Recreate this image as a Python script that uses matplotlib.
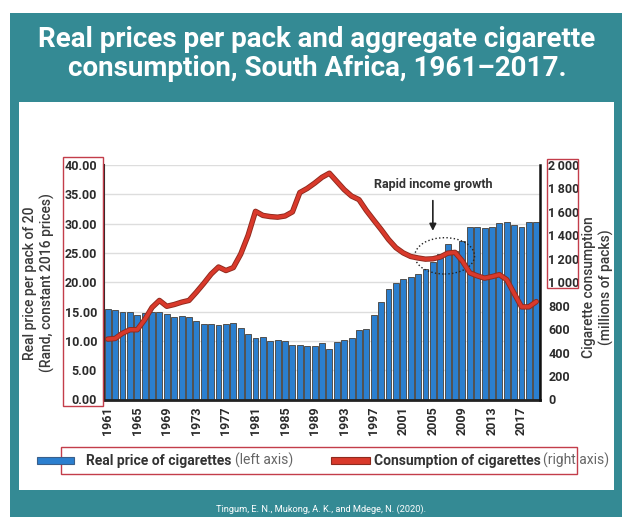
import numpy as np
import matplotlib
matplotlib.use("Agg")
import matplotlib.pyplot as plt
from matplotlib.patches import Rectangle, Ellipse
import matplotlib.patheffects as pe

plt.rcParams['font.family'] = ['Roboto', 'DejaVu Sans']

years = np.arange(1961, 2020)
price = [15.4, 15.3, 15.0, 15.0, 14.4, 14.75, 14.9, 14.9, 14.5, 14.0,
         14.2, 14.0, 13.45, 12.9, 12.9, 12.7, 12.9, 13.05, 12.25, 11.1,
         10.45, 10.65, 9.95, 10.1, 9.95, 9.35, 9.35, 9.2, 9.2, 9.6,
         8.55, 9.8, 10.1, 10.5, 11.85, 12.1, 14.35, 16.55, 18.85, 19.8,
         20.6, 20.9, 21.4, 22.2, 23.4, 24.9, 26.6, 25.35, 27.05, 29.5,
         29.5, 29.3, 29.45, 30.1, 30.35, 29.85, 29.45, 30.2, 30.2]
consumption = [515, 520, 565, 595, 595, 680, 785, 845, 795, 810,
               830, 845, 915, 990, 1070, 1130, 1100, 1125, 1240, 1400,
               1605, 1570, 1560, 1555, 1565, 1600, 1765, 1800, 1845, 1895,
               1930, 1860, 1790, 1735, 1705, 1612, 1530, 1450, 1365, 1295,
               1250, 1220, 1207, 1197, 1200, 1215, 1248, 1255, 1180, 1080,
               1055, 1035, 1048, 1065, 1022, 905, 790, 790, 835]
xtick_years = list(range(1961, 2018, 4))
left_ticks = np.arange(0, 41, 5)
right_ticks = np.arange(0, 2001, 200)

W, H = 622, 517
teal = '#348A94'
red_box = '#C33D4A'
dark = '#2b2b2b'


def fx(x):
    return x / W


def fy(y):
    return 1 - y / H


def frect(x0, y0, x1, y1, **kw):
    return Rectangle((fx(x0), fy(y1)), fx(x1) - fx(x0), fy(y0) - fy(y1),
                     transform=fig.transFigure, **kw)


fig = plt.figure(figsize=(W / 100, H / 100), dpi=100)
fig.patch.set_facecolor('white')

# background panels
fig.patches.append(frect(10, 13, 622, 517, facecolor=teal, edgecolor='none', zorder=-3))
fig.patches.append(frect(19, 102, 614, 490, facecolor='white', edgecolor='none', zorder=-2))

fig.text(fx(317), fy(54), 'Real prices per pack and aggregate cigarette\nconsumption, South Africa, 1961\u20132017.',
         ha='center', va='center', color='white', fontsize=20, fontweight='bold', linespacing=1.1)

ax = fig.add_axes([fx(104), fy(399.5), fx(540) - fx(104), fy(165) - fy(399.5)])
ax.bar(years, price, width=0.8, color='#2B7FCF', edgecolor='#505050', linewidth=0.7, zorder=2)
ax.set_xlim(1960.5, 2019.5)
ax.set_ylim(0, 40)
ax.set_yticks(left_ticks)
ax.set_yticklabels([f'{v:.2f}' for v in left_ticks])
ax.set_xticks(xtick_years)
ax.set_xticklabels([str(y) for y in xtick_years], rotation=90)
ax.grid(axis='y', color='#dddddd', linewidth=1)
ax.set_axisbelow(True)
ax.tick_params(axis='y', length=0, pad=5, labelsize=9, labelcolor=dark)
ax.tick_params(axis='x', length=0, pad=5, labelsize=9, labelcolor=dark)
for lab in ax.get_yticklabels() + ax.get_xticklabels():
    lab.set_fontweight('bold')
ax.spines['top'].set_visible(False)
ax.spines['right'].set_visible(False)
ax.spines['left'].set_color('#222222')
ax.spines['left'].set_linewidth(1.5)
ax.spines['bottom'].set_color('#222222')
ax.spines['bottom'].set_linewidth(2)

ax.text(2005.0, 36.7, 'Rapid income growth', ha='center', va='center',
        fontsize=9, fontweight='bold', color='#333333')
ax.annotate('', xy=(2005.0, 28.3), xytext=(2005.0, 34.4),
            arrowprops=dict(arrowstyle='-|>', color='#222222', lw=1.2, mutation_scale=10))
ax.add_patch(Ellipse((2006.6, 24.5), 8.1, 6.2, fill=False, linestyle=':',
                     edgecolor='#222222', linewidth=1, zorder=5))

ax2 = ax.twinx()
ax2.plot(years, consumption, color='#D9392B', linewidth=2.6, solid_joinstyle='round',
         solid_capstyle='round',
         path_effects=[pe.Stroke(linewidth=3.9, foreground='#8E2A1E'), pe.Normal()])
ax2.set_ylim(0, 2000)
ax2.set_yticks(right_ticks)
ax2.set_yticklabels([f'{v // 1000}\u2009{v % 1000:03d}' if v >= 1000 else str(v) for v in right_ticks])
ax2.tick_params(axis='y', length=0, pad=6, labelsize=9, labelcolor=dark)
for lab in ax2.get_yticklabels():
    lab.set_fontweight('bold')
for s in ['top', 'left', 'bottom']:
    ax2.spines[s].set_visible(False)
ax2.spines['right'].set_color('#111111')
ax2.spines['right'].set_linewidth(1.8)

# axis titles
fig.text(fx(39), fy(283), 'Real price per pack of 20\n(Rand, constant 2016 prices)', rotation=90,
         ha='center', va='center', fontsize=10, fontweight='medium', color='#3a3a3a', linespacing=1.2)
fig.text(fx(598), fy(287), 'Cigarette consumption\n(millions of packs)', rotation=90,
         ha='center', va='center', fontsize=10, fontweight='medium', color='#3a3a3a', linespacing=1.2)

# highlight boxes
fig.patches.append(frect(63, 157, 103, 406, fill=False, edgecolor=red_box, linewidth=1, zorder=10))
fig.patches.append(frect(547, 159, 578, 288, fill=False, edgecolor=red_box, linewidth=1, zorder=10))
fig.patches.append(frect(61, 447, 577, 474, fill=False, edgecolor=red_box, linewidth=1, zorder=10))

# legend
fig.patches.append(frect(37, 457, 74, 464, facecolor='#2B7FCF', edgecolor='#3a5f8a', linewidth=0.8, zorder=11))
fig.text(fx(86), fy(460.5), 'Real price of cigarettes', ha='left', va='center',
         fontsize=10, fontweight='bold', color='#333333')
fig.text(fx(235), fy(460.5), '(left axis)', ha='left', va='center', fontsize=10, color='#666666')
fig.patches.append(frect(331, 457, 370, 464, facecolor='#D9392B', edgecolor='#8E2A1E', linewidth=0.8, zorder=11))
fig.text(fx(374), fy(460.5), 'Consumption of cigarettes', ha='left', va='center',
         fontsize=10, fontweight='bold', color='#333333')
fig.text(fx(543), fy(460.5), '(right axis)', ha='left', va='center', fontsize=10, color='#666666')

fig.text(fx(321), fy(509), 'Tingum, E. N., Mukong, A. K., and Mdege, N. (2020).', ha='center', va='center',
         fontsize=6.7, color='white')

fig.savefig('out.png', dpi=100)
